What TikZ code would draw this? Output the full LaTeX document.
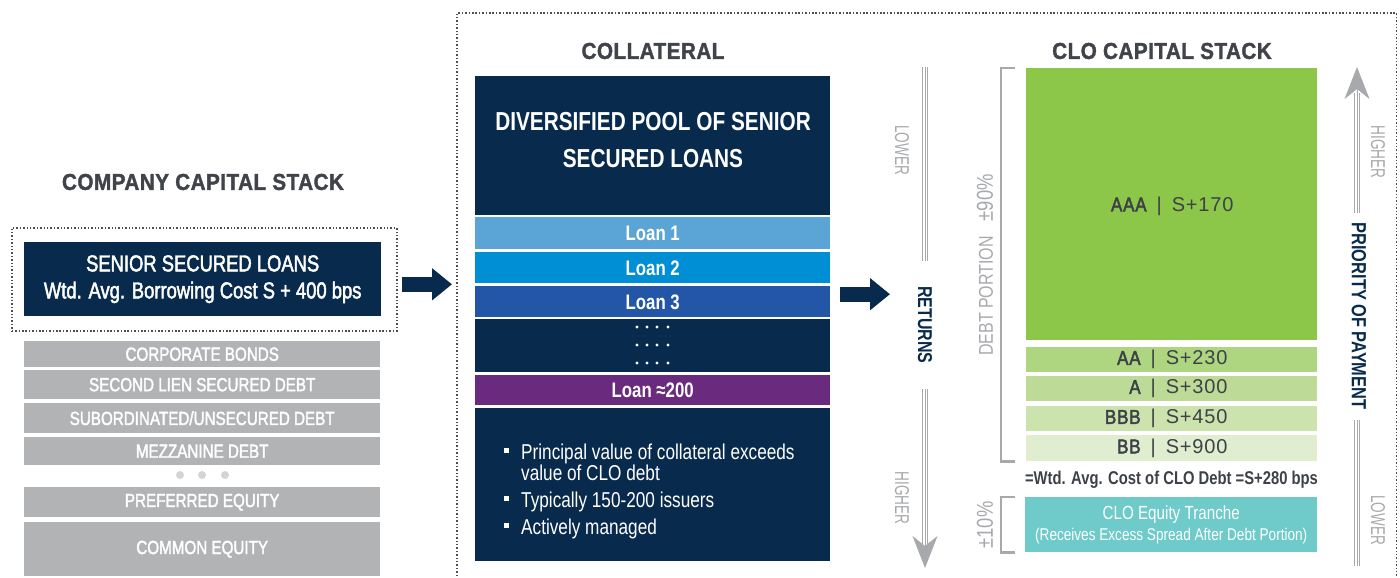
\documentclass[tikz,border=0pt]{standalone}
\usepackage{fontspec}
\setmainfont{Liberation Sans}[FakeStretch=0.8]
\newfontfamily\medfont{Liberation Sans}[FakeStretch=0.8, FakeBold=2]
\newfontfamily\titlefont{Liberation Sans}[FakeStretch=0.9, LetterSpace=2, FakeBold=1.5]
\newfontfamily\thinfont{Liberation Sans}[FakeStretch=0.68]
\newfontfamily\trfont{Liberation Sans}[LetterSpace=4]
\newfontfamily\ratefont{Liberation Sans}[FakeStretch=0.85, LetterSpace=4, FakeBold=2.5]
\usepackage{xcolor}
\usepackage{tikz}
\usetikzlibrary{positioning}
\usetikzlibrary{arrows.meta}

\definecolor{navy}{RGB}{8,42,77}
\definecolor{titlegray}{RGB}{64,67,73}
\definecolor{textdark}{RGB}{61,65,72}
\definecolor{boxgray}{RGB}{177,179,180}
\definecolor{dotgray}{RGB}{211,212,213}
\definecolor{framegray}{RGB}{77,79,83}
\definecolor{linegray}{RGB}{167,169,172}
\definecolor{loanA}{RGB}{90,165,213}
\definecolor{loanB}{RGB}{0,143,213}
\definecolor{loanC}{RGB}{35,86,167}
\definecolor{loanZ}{RGB}{106,42,125}
\definecolor{aaa}{RGB}{141,199,74}
\definecolor{aa}{RGB}{174,213,127}
\definecolor{singlea}{RGB}{189,219,151}
\definecolor{bbb}{RGB}{205,227,174}
\definecolor{bb}{RGB}{224,237,207}
\definecolor{equity}{RGB}{110,203,201}

\newcommand\fsize[2]{\fontsize{#1}{#2}\selectfont}
\newcommand\tranche[3][0]{\makebox[\dimexpr 60pt+#1pt\relax][r]{\ratefont #2}\hspace{10pt}|\hspace{10pt}\makebox[\dimexpr 97pt-#1pt\relax][l]{#3}}

\tikzset{
  panel/.style args={#1 by #2}{anchor=north west, inner sep=0pt, minimum width=#1pt, minimum height=#2pt},
  headtext/.style={font=\titlefont\bfseries\fsize{23}{23}, text=titlegray},
  graybox/.style={fill=boxgray, text=white, font=\medfont\fsize{19}{19}},
  loanlbl/.style={text=white, font=\bfseries\fsize{21}{21}},
  sidelabel/.style={text=linegray, font=\thinfont\fsize{20}{20}, rotate=-90},
  trbox/.style={text=textdark, font=\trfont\fsize{20}{20}},
  thinline/.style={draw=linegray, line width=0.9pt},
  dotframe/.style={draw=framegray, line width=1.6pt, dash pattern=on 1.5pt off 1.9pt},
  blockarrow/.style={navy, line width=15pt, -{Triangle[length=20pt, width=31pt]}},
  bracket/.style={draw=linegray, line width=2.4pt},
}

\begin{document}
\begin{tikzpicture}[x=1pt, y=-1pt]
  \useasboundingbox (0,0) rectangle (1400,578);

  % company capital stack
  \node[headtext] (ctitle) at (203,182) {COMPANY CAPITAL STACK};
  \node[panel=385 by 103, dotframe] (slwrap) at (11,227) {};
  \node[panel=357 by 74, fill=navy, text=white, align=center, font=\medfont\fsize{23}{27}] (slbox) at (24,242) {SENIOR SECURED LOANS\\Wtd. Avg. Borrowing Cost S + 400 bps};
  \foreach \yy/\hh/\lbl [count=\i] in {341/26/CORPORATE BONDS, 370/29/SECOND LIEN SECURED DEBT, 403/30/{SUBORDINATED/UNSECURED DEBT}, 437/28/MEZZANINE DEBT, 487/30/PREFERRED EQUITY, 522/54/COMMON EQUITY}
    \node[panel=356 by \hh, graybox] (gb\i) at (24,\yy) {\lbl};
  \foreach \dx in {180,202,225}
    \fill[dotgray] (\dx,475) circle (4pt);

  % outer frame
  \node[panel=939 by 600] (frame) at (457,13) {};
  \draw[dotframe] (frame.south west) -- (frame.north west) -- (frame.north east) -- (frame.south east);

  % collateral
  \node[headtext] (coltitle) at (653,51) {COLLATERAL};
  \node[panel=355 by 139, fill=navy] (pooltop) at (475,76) {};
  \node[text=white, align=center, font=\bfseries\fsize{26}{37}] (pooltext) at (653,140.5) {DIVERSIFIED POOL OF SENIOR\\SECURED LOANS};
  \foreach \yy/\hh/\col/\lbl/\nm in {217/32/loanA/Loan 1/lnA, 252/31/loanB/Loan 2/lnB, 286/31/loanC/Loan 3/lnC, 375/30/loanZ/Loan ≈200/lnZ}
    \node[panel=355 by \hh, fill=\col, loanlbl, text depth=0pt] (\nm) at (475,\yy) {\lbl};
  \node[panel=355 by 53, fill=navy] (pooldots) at (475,319) {};
  \foreach \dy in {327,345,363}
    \foreach \dx in {637,647,657,668}
      \fill[white] (\dx,\dy) circle (1.6pt);
  \node[panel=355 by 153, fill=navy] (poolbot) at (475,408) {};
  \foreach \by in {448,496,523}
    \fill[white] (504,\by) rectangle ++(4.5,4.5);
  \node[anchor=north west, inner sep=0pt, text=white, align=left, font=\fsize{21.5}{21}] (blt1) at (521,443.5) {Principal value of collateral exceeds\\value of CLO debt};
  \node[anchor=north west, inner sep=0pt, text=white, font=\fsize{21.5}{21}] (blt2) at (521,491.5) {Typically 150-200 issuers};
  \node[anchor=north west, inner sep=0pt, text=white, font=\fsize{21.5}{21}] (blt3) at (521,518.5) {Actively managed};

  % returns scale
  \node[font=\bfseries\fsize{20}{20}, text=navy, rotate=-90] (returns) at (925,325) {RETURNS};
  \node[sidelabel] (rlow) at (902,150) {LOWER};
  \node[sidelabel] (rhigh) at (902,498) {HIGHER};
  \coordinate (rtop) at (925,67);
  \coordinate (rtip) at (925,568);
  \foreach \dx in {-2.6,0,2.6}
    \draw[thinline, shorten >=22pt] ([xshift=\dx pt]rtop) -- ([xshift=\dx pt]returns.west);
  \foreach \dx in {-2.6,2.6}
    \draw[thinline, shorten <=22pt, shorten >=24pt] ([xshift=\dx pt]returns.east) -- ([xshift=\dx pt]rtip);
  \draw[thinline, shorten <=22pt, -{Stealth[length=32pt, width=25pt, inset=10pt]}] (returns.east) -- (rtip);

  % clo capital stack
  \node[headtext] (clotitle) at (1162,51) {CLO CAPITAL STACK};
  \node[panel=291 by 272, fill=aaa, trbox, text depth=0pt] (aaa) at (1026,68) {\tranche[6]{AAA}{S+170}};
  \node[panel=291 by 25, fill=aa, trbox] (aa) at (1026,347) {\tranche{AA}{S+230}};
  \node[panel=291 by 25, fill=singlea, trbox] (a) at (1026,376) {\tranche{A}{S+300}};
  \node[panel=291 by 25, fill=bbb, trbox] (bbb) at (1026,406) {\tranche{BBB}{S+450}};
  \node[panel=291 by 26, fill=bb, trbox] (bb) at (1026,435) {\tranche{BB}{S+900}};
  \node[text=textdark, font=\bfseries\fsize{18.5}{18.5}] (cost) at (1171.5,480) {=Wtd. Avg. Cost of CLO Debt =S+280 bps};
  \node[panel=292 by 55, fill=equity, text=white, align=center, font=\fsize{19}{21}] (eq) at (1025,497) {CLO Equity Tranche\\\fsize{17}{21}(Receives Excess Spread After Debt Portion)};

  % brackets
  \draw[bracket] ([xshift=-11pt]aaa.north west) -- ([xshift=-25pt]aaa.north west) -- ([xshift=-25pt]bb.south west) -- ([xshift=-11pt]bb.south west);
  \draw[bracket] ([xshift=-10pt]eq.north west) -- ([xshift=-24pt]eq.north west) -- ([xshift=-24pt]eq.south west) -- ([xshift=-10pt]eq.south west);
  \node[text=linegray, font=\fsize{20}{20}, rotate=90] (debtlbl) at (985,265) {DEBT PORTION\hspace{15pt}{\fsize{23}{23}±90\%}};
  \node[text=linegray, font=\fsize{23}{23}, rotate=90] (eqlbl) at (985,525) {±10\%};

  % priority of payment
  \node[font=\bfseries\fsize{20.5}{20}, text=navy, rotate=-90] (priority) at (1359,316) {PRIORITY OF PAYMENT};
  \node[sidelabel] (phigh) at (1378,152) {HIGHER};
  \node[sidelabel] (plow) at (1378,520) {LOWER};
  \coordinate (ptip) at (1357,67);
  \coordinate (pbot) at (1357,566);
  \foreach \dx in {-2.6,2.6}
    \draw[thinline, shorten <=6pt, shorten >=26pt] ([xshift=\dx pt]priority.west -| ptip) -- ([xshift=\dx pt]ptip);
  \draw[thinline, shorten <=6pt, -{Stealth[length=32pt, width=25pt, inset=10pt]}] (priority.west -| ptip) -- (ptip);
  \foreach \dx in {-2.6,0,2.6}
    \draw[thinline, shorten <=7pt] ([xshift=\dx pt]priority.east -| pbot) -- ([xshift=\dx pt]pbot);

  % arrows
  \coordinate (a1) at ([yshift=-5pt]slwrap.east);
  \draw[blockarrow, shorten <=4pt, shorten >=5pt] (a1) -- (a1 -| frame.west);
  \coordinate (a2) at ([yshift=7.5pt]lnC.east);
  \draw[blockarrow, shorten <=10pt, shorten >=35pt] (a2) -- (a2 -| returns.center);
\end{tikzpicture}
\end{document}
